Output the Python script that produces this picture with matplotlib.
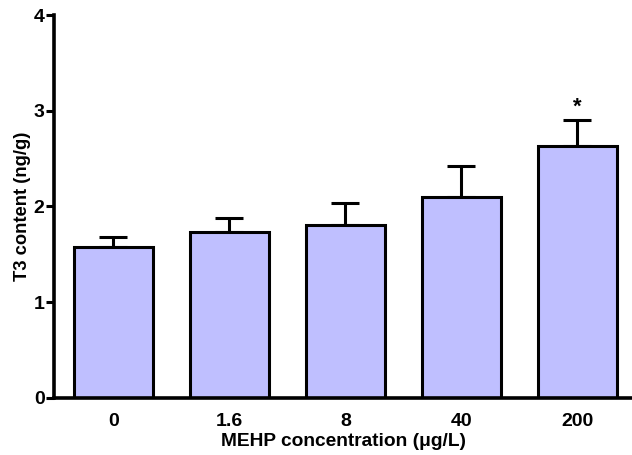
import matplotlib
matplotlib.use("Agg")
import matplotlib.pyplot as plt
import numpy as np

categories = ["0", "1.6", "8", "40", "200"]
means = [1.58, 1.73, 1.81, 2.10, 2.63]
errors = [0.10, 0.15, 0.23, 0.32, 0.27]
marks = ["", "", "", "", "*"]
yticks = [0, 1, 2, 3, 4]

plt.rcParams['font.family'] = ['Liberation Sans', 'DejaVu Sans']
plt.rcParams['font.weight'] = 'bold'

fig = plt.figure(figsize=(6.32, 4.55), dpi=100)
ax = fig.add_axes([0.0859, 0.126, 0.9141, 0.841])

x = np.arange(len(categories))
ax.bar(x, means, width=0.68, color='#bfbfff', edgecolor='black', linewidth=2.2, zorder=2)
ax.errorbar(x, means, yerr=[np.zeros(len(means)), errors], fmt='none', ecolor='black',
            elinewidth=2.2, capsize=10, capthick=2.2, zorder=1)
for xi, m, e, s in zip(x, means, errors, marks):
    if s:
        ax.text(xi, m + e + 0.03, s, ha='center', va='bottom', fontsize=16, fontweight='bold')

ax.set_xlim(-0.51, 4.47)
ax.set_ylim(0, 4)
ax.set_yticks(yticks)
ax.set_yticklabels([str(t) for t in yticks])
ax.set_xticks(x)
ax.set_xticklabels(categories)
ax.tick_params(axis='x', length=0, pad=11, labelsize=14)
ax.tick_params(axis='y', length=6, width=2.2, pad=1, labelsize=14)
for lab in ax.get_xticklabels() + ax.get_yticklabels():
    lab.set_fontweight('bold')

ax.spines['top'].set_visible(False)
ax.spines['right'].set_visible(False)
ax.spines['left'].set_linewidth(2.6)
ax.spines['bottom'].set_linewidth(2.6)

ax.set_xlabel("MEHP concentration (\u03bcg/L)", fontsize=13.8, fontweight='bold', labelpad=2)
ax.set_ylabel("T3 content (ng/g)", fontsize=13.2, fontweight='bold', labelpad=2)

fig.savefig("out.png", dpi=100)
